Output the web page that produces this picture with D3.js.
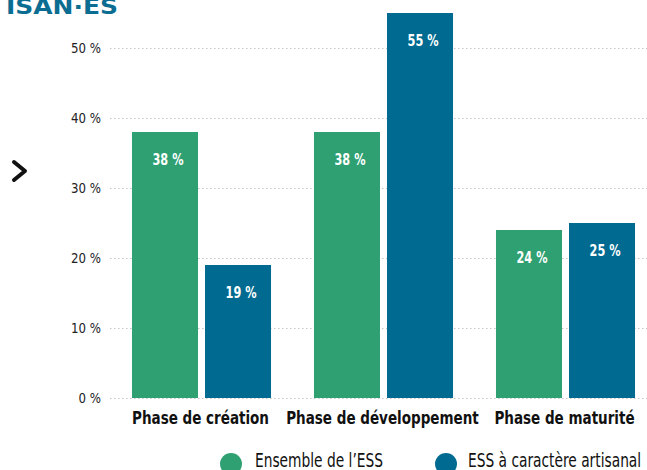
<!DOCTYPE html>
<html>
<head>
<meta charset="utf-8">
<script src="https://cdn.jsdelivr.net/npm/d3@7"></script>
<style>
  body { margin: 0; background: #fff; }
  svg { display: block; }
  text { font-family: "DejaVu Sans Condensed", "DejaVu Sans", sans-serif; }
</style>
</head>
<body>
<div id="chart"></div>
<script>
// data
const categories = ['Phase de création', 'Phase de développement', 'Phase de maturité']
const series = ['Ensemble de l\u2019ESS', 'ESS à caractère artisanal']
const ensemble = [38, 38, 24]
const artisanal = [19, 55, 25]
const yTicks = [0, 10, 20, 30, 40, 50]

const colors = ['#2ea072', '#006a90']

const width = 647, height = 470

const svg = d3.select('#chart').append('svg')
    .attr('width', width)
    .attr('height', height)

// squeeze a group of texts so that the first one gets the wanted width
// (the original uses a condensed font we don't have)
function condense(sel, wanted) {
    const nodes = sel.nodes()
    const k = wanted / nodes[0].getComputedTextLength()
    nodes.forEach(n => {
        d3.select(n)
            .attr('textLength', n.getComputedTextLength() * k)
            .attr('lengthAdjust', 'spacingAndGlyphs')
    })
}

// scales
const x0 = d3.scaleBand().domain(categories).range([110.5, 656.5]).paddingInner(0.236).paddingOuter(0.118)
const x1 = d3.scaleBand().domain(series).range([0, x0.bandwidth()]).paddingInner(0.096)
const y = d3.scaleLinear().domain([0, 50]).range([398, 48])

// title (cut off at the top)
const title = svg.append('text')
    .attr('x', 6)
    .attr('y', 14)
    .attr('fill', '#0b6d91')
    .attr('font-size', 22)
    .attr('font-weight', 'bold')
    .style('font-family', '"DejaVu Sans", sans-serif')
    .text('ISAN·ES')
condense(title, 112)

// chevron
svg.append('path')
    .attr('d', 'M14,162 L25,171 L14,180')
    .attr('fill', 'none')
    .attr('stroke', '#111')
    .attr('stroke-width', 4)
    .attr('stroke-linecap', 'round')
    .attr('stroke-linejoin', 'round')

// grid
svg.append('g').selectAll('line')
    .data(yTicks)
    .join('line')
    .attr('x1', 110).attr('x2', width)
    .attr('y1', d => y(d) + 0.5).attr('y2', d => y(d) + 0.5)
    .attr('stroke', '#c4c4c4')
    .attr('stroke-width', 1)
    .attr('stroke-dasharray', '1.5,2.5')

// y labels
const yLabels = svg.append('g').selectAll('text')
    .data(yTicks.slice().reverse())
    .join('text')
    .attr('x', 101)
    .attr('y', d => y(d) + 5)
    .attr('text-anchor', 'end')
    .attr('font-size', 13.5)
    .attr('fill', '#222')
    .text(d => d + ' %')
condense(yLabels, 30)

// bars
const rows = categories.map((c, i) => ({ cat: c, vals: [ensemble[i], artisanal[i]] }))

const groups = svg.append('g').selectAll('g')
    .data(rows)
    .join('g')
    .attr('transform', d => 'translate(' + x0(d.cat) + ',0)')

groups.selectAll('rect')
    .data(d => d.vals.map((v, j) => ({ s: series[j], v: v, j: j })))
    .join('rect')
    .attr('x', d => x1(d.s))
    .attr('y', d => y(d.v))
    .attr('width', x1.bandwidth())
    .attr('height', d => y(0) - y(d.v))
    .attr('fill', d => colors[d.j])

groups.selectAll('text.val')
    .data(d => d.vals.map((v, j) => ({ s: series[j], v: v, j: j })))
    .join('text')
    .attr('class', 'val')
    .attr('x', d => x1(d.s) + x1.bandwidth() / 2 + 3)
    .attr('y', d => y(d.v) + 33)
    .attr('text-anchor', 'middle')
    .attr('font-size', 15.5)
    .attr('font-weight', 'bold')
    .attr('fill', '#fff')
    .text(d => d.v + ' %')
condense(svg.selectAll('text.val'), 31)

// x labels
const xLabels = svg.append('g').selectAll('text')
    .data(categories)
    .join('text')
    .attr('x', d => x0(d) + x0.bandwidth() / 2 - 1)
    .attr('y', 424)
    .attr('text-anchor', 'middle')
    .attr('font-size', 17.5)
    .attr('font-weight', 'bold')
    .attr('fill', '#111')
    .text(d => d)
condense(xLabels, 137)

// legend
const legendX = [231, 446]
const leg = svg.append('g').selectAll('g')
    .data(series)
    .join('g')
    .attr('transform', (d, i) => 'translate(' + legendX[i] + ',464)')

leg.append('circle')
    .attr('r', 11)
    .attr('fill', (d, i) => colors[i])

const legText = leg.append('text')
    .attr('x', (d, i) => i === 0 ? 24 : 22)
    .attr('y', 3)
    .attr('font-size', 19)
    .attr('fill', '#111')
    .text(d => d)
condense(legText, 128)
</script>
</body>
</html>
